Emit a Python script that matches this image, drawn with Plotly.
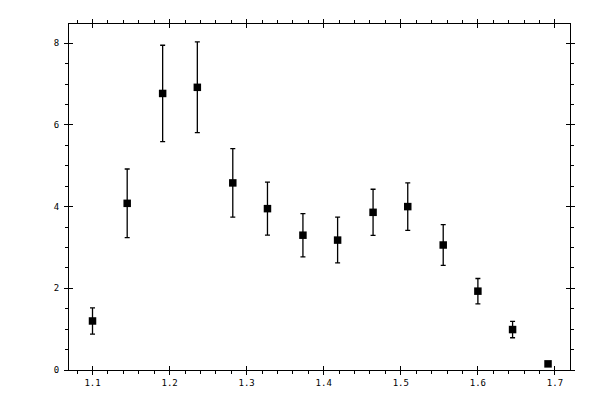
import plotly.graph_objects as go

# datos
x_vals = [1.100, 1.145, 1.191, 1.236, 1.282, 1.327, 1.373, 1.418, 1.464, 1.509, 1.555, 1.600, 1.645, 1.691]
y_vals = [1.20, 4.08, 6.77, 6.92, 4.58, 3.95, 3.30, 3.18, 3.86, 4.00, 3.06, 1.93, 0.99, 0.15]
y_err = [0.32, 0.84, 1.18, 1.11, 0.84, 0.65, 0.53, 0.56, 0.565, 0.58, 0.50, 0.31, 0.20, 0.0]

x_ticks = [1.1, 1.2, 1.3, 1.4, 1.5, 1.6, 1.7]
y_ticks = [0, 2, 4, 6, 8]

x_range = [1.0695, 1.7195]
y_range = [0, 8.47]

fig = go.Figure()

fig.add_trace(go.Scatter(
    x=x_vals, y=y_vals, mode="markers",
    marker=dict(symbol="square", size=7.5, color="black"),
    error_y=dict(type="data", array=y_err, visible=True, color="black", thickness=1.3, width=2.5),
    showlegend=False,
))

# traza invisible para el eje superpuesto (marcas hacia dentro)
fig.add_trace(go.Scatter(
    x=x_vals, y=y_vals, mode="markers", xaxis="x2", yaxis="y2",
    marker=dict(opacity=0), hoverinfo="skip", showlegend=False,
))

fuente = dict(family="DejaVu Sans Mono", size=9, color="black")

# la pagina tiene 8px de margen en el body
fig.update_layout(
    width=600, height=400,
    margin=dict(l=61, r=38, t=11, b=38),
    paper_bgcolor="white", plot_bgcolor="white",
    xaxis=dict(
        range=x_range, tickvals=x_ticks, ticktext=[str(v) for v in x_ticks],
        showgrid=False, zeroline=False, showline=True, linecolor="black", linewidth=1.3,
        mirror="allticks", ticks="outside", ticklen=4, tickcolor="black", tickwidth=1.3,
        tickfont=fuente,
        minor=dict(dtick=0.02, tick0=1.0, ticks="outside", ticklen=3, tickcolor="black", showgrid=False),
    ),
    yaxis=dict(
        range=y_range, tickvals=y_ticks, ticktext=[str(v) for v in y_ticks],
        showgrid=False, zeroline=False, showline=True, linecolor="black", linewidth=1.3,
        mirror="allticks", ticks="outside", ticklen=4, tickcolor="black", tickwidth=1.3,
        tickfont=fuente, ticklabelstandoff=3,
        minor=dict(dtick=0.5, tick0=0, ticks="outside", ticklen=3, tickcolor="black", showgrid=False),
    ),
    xaxis2=dict(
        range=x_range, tickvals=x_ticks, overlaying="x", showticklabels=False,
        showgrid=False, zeroline=False, showline=False,
        mirror="allticks", ticks="inside", ticklen=4, tickcolor="black", tickwidth=1.3,
    ),
    yaxis2=dict(
        range=y_range, tickvals=y_ticks, overlaying="y", showticklabels=False,
        showgrid=False, zeroline=False, showline=False,
        mirror="allticks", ticks="inside", ticklen=4, tickcolor="black", tickwidth=1.3,
    ),
)

fig.write_html("out.html")
